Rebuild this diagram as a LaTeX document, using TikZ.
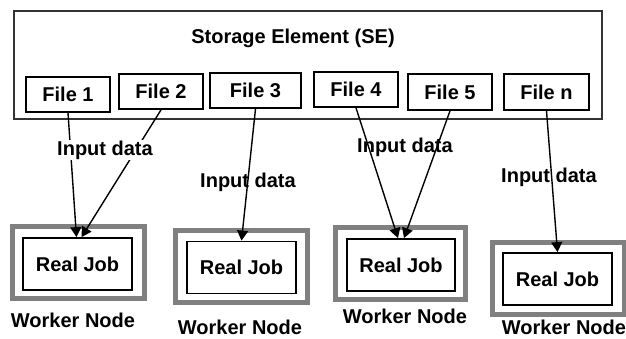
\documentclass[tikz,border=0pt]{standalone}
\usepackage{fontspec}
\setmainfont{Liberation Sans}
\usetikzlibrary{arrows.meta}

\begin{document}
\begin{tikzpicture}[x=1pt, y=-1pt, font=\fontsize{20}{24}\selectfont\bfseries,
    filebox/.style={draw, line width=1.8pt, minimum width=84pt, minimum height=35pt, inner sep=0pt},
    jobbox/.style={draw, line width=1.8pt, minimum width=109pt, minimum height=52pt, inner sep=0pt},
    workerbox/.style={draw=gray, line width=5pt, minimum width=132pt, minimum height=72pt, inner sep=0pt},
    feed/.style={-{Triangle[length=10pt,width=11pt]}, line width=1.4pt}]
      \useasboundingbox (0,0) rectangle (626,338);

      \node[draw=black!80, line width=2pt, minimum width=588pt, minimum height=108pt] (se) at (308,65) {};
      \node (setitle) at (293,38) {Storage Element (SE)};

      \node[filebox]               (f1) at (68,94.5)  {File 1};
      \node[filebox]               (f2) at (161,91.5) {File 2};
      \node[filebox, minimum width=91pt] (f3) at (255.5,90.5) {File 3};
      \node[filebox]               (f4) at (356,89.5) {File 4};
      \node[filebox, minimum height=36pt] (f5) at (450,92) {File 5};
      \node[filebox, minimum width=85pt, minimum height=36pt] (fn) at (546.5,92) {File n};

      \node[workerbox] (wn1) at (78.5,262)   {};
      \node[workerbox] (wn2) at (241.5,266.5) {};
      \node[workerbox, minimum width=130pt] (wn3) at (400.5,263.5) {};
      \node[workerbox] (wn4) at (558,278.5)  {};

      \node[jobbox] (job1) at (77.5,264)   {Real Job};
      \node[jobbox] (job2) at (241.5,267.5) {Real Job};
      \node[jobbox, minimum width=108pt] (job3) at (401,265) {Real Job};
      \node[jobbox] (job4) at (557.5,279)  {Real Job};

      \node (wl1) at (73,320)  {Worker Node};
      \node (wl2) at (240,327) {Worker Node};
      \node (wl3) at (405,316) {Worker Node};
      \node (wl4) at (564,327) {Worker Node};

      \path (f1.south) edge[feed] ([xshift=-1pt]job1.north)
            (f2.south) edge[feed] ([xshift=4pt]job1.north)
            (f3.south) edge[feed] (job2.north)
            (f4.south) edge[feed] ([xshift=-3pt]job3.north)
            (f5.south) edge[feed] ([xshift=3pt]job3.north)
            (fn.south) edge[feed] (job4.north);

      \node[fill=white, inner sep=1pt] (in1) at (105,150) {Input data};
      \node (in2) at (248,182) {Input data};
      \node (in3) at (405,147) {Input data};
      \node (in4) at (549,177) {Input data};
    \end{tikzpicture}
\end{document}
